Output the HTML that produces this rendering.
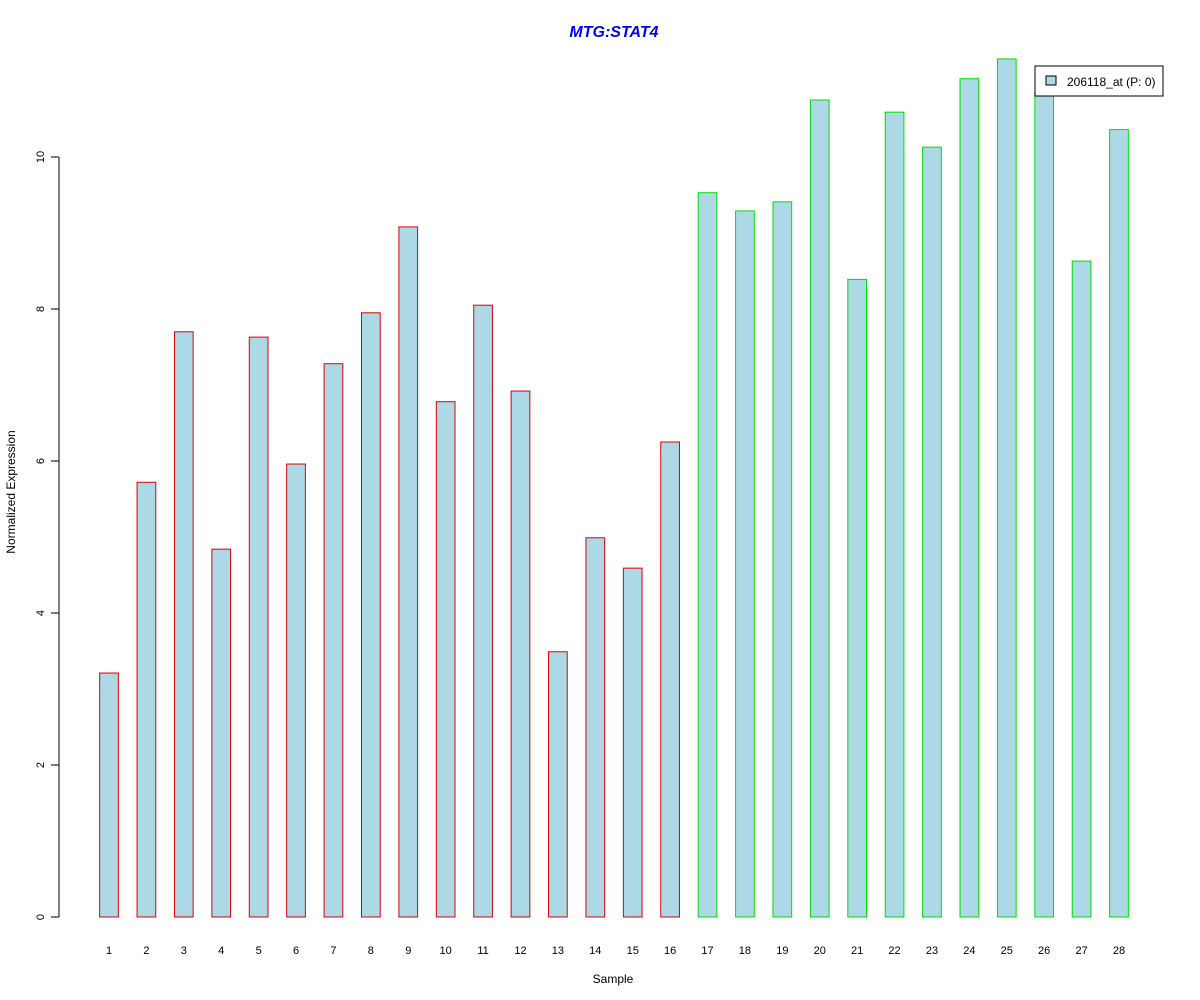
<!DOCTYPE html>
<html><head><meta charset="utf-8"><style>body{margin:0;background:#fff}svg{display:block;font-family:"Liberation Sans",Arial,sans-serif}</style></head>
<body>
<svg id="chart" width="1200" height="1000">
<text x="614" y="37" text-anchor="middle" font-size="16" font-weight="bold" font-style="italic" fill="#0000ee">MTG:STAT4</text>
<text x="613" y="983" text-anchor="middle" font-size="12">Sample</text>
<text transform="translate(15,492) rotate(-90)" text-anchor="middle" font-size="12">Normalized Expression</text>
<g id="yaxis"></g>
<g id="bars"></g>
<g id="xlabels"></g>
<g>
<rect x="1035" y="66" width="128" height="30" fill="#fff" stroke="#000"/>
<rect x="1046" y="76" width="10" height="9" fill="#add8e6" stroke="#000"/>
<text x="1067" y="86" font-size="12">206118_at (P: 0)</text>
</g>
</svg>
<script>
const categories = ["1","2","3","4","5","6","7","8","9","10","11","12","13","14","15","16","17","18","19","20","21","22","23","24","25","26","27","28"];
const values = [3.21,5.72,7.70,4.84,7.63,5.96,7.28,7.95,9.08,6.78,8.05,6.92,3.49,4.99,4.59,6.25,9.53,9.29,9.41,10.75,8.39,10.59,10.13,11.03,11.29,10.85,8.63,10.36];
const groups = [1,1,1,1,1,1,1,1,1,1,1,1,1,1,1,1,2,2,2,2,2,2,2,2,2,2,2,2];
const yTicks = [0,2,4,6,8,10];
const NS="http://www.w3.org/2000/svg";
const y0=917, pxPerUnit=76;
function yScale(v){return y0-v*pxPerUnit;}
function xCenter(i){return 109+i*(1119-109)/(categories.length-1);}
const bw=18.7;
const bars=document.getElementById('bars');
const xl=document.getElementById('xlabels');
categories.forEach((c,i)=>{
  const r=document.createElementNS(NS,'rect');
  const top=yScale(values[i]);
  r.setAttribute('x',xCenter(i)-bw/2);
  r.setAttribute('y',top);
  r.setAttribute('width',bw);
  r.setAttribute('height',y0-top);
  r.setAttribute('fill','#add8e6');
  r.setAttribute('stroke',groups[i]===1?'#dd0000':'#00dd00');
  
  
  bars.appendChild(r);
  const t=document.createElementNS(NS,'text');
  t.setAttribute('x',xCenter(i));
  t.setAttribute('y',954);
  t.setAttribute('text-anchor','middle');
  t.setAttribute('font-size','11');
  t.textContent=c;
  
  
  xl.appendChild(t);
});
const ya=document.getElementById('yaxis');
const ax=document.createElementNS(NS,'line');
ax.setAttribute('x1',59);ax.setAttribute('x2',59);
ax.setAttribute('y1',yScale(yTicks[0]));ax.setAttribute('y2',yScale(yTicks[yTicks.length-1]));
ax.setAttribute('stroke','#000');


ya.appendChild(ax);
yTicks.forEach(v=>{
  const l=document.createElementNS(NS,'line');
  l.setAttribute('x1',51);l.setAttribute('x2',59);
  l.setAttribute('y1',yScale(v));l.setAttribute('y2',yScale(v));
  l.setAttribute('stroke','#000');
  
  
  ya.appendChild(l);
  const t=document.createElementNS(NS,'text');
  t.setAttribute('transform','translate(44,'+yScale(v)+') rotate(-90)');
  t.setAttribute('text-anchor','middle');
  t.setAttribute('font-size','11');
  t.textContent=v;
  
  
  ya.appendChild(t);
});
</script>
</body></html>
